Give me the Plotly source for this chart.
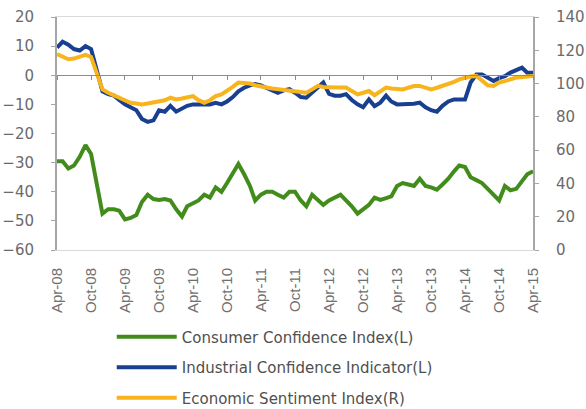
import pandas as pd
import plotly.graph_objects as go

# Monthly observations, Apr-2008 .. Apr-2015
months = pd.date_range("2008-04-01", "2015-04-01", freq="MS")

consumer_confidence = [
    -29.5, -29.5, -32, -31, -28, -24, -27, -38, -47.5, -46, -46, -46.5,
    -49.5, -49, -48, -43.5, -41, -42.5, -42.8, -42.5, -43, -46, -48.5, -45,
    -44, -43, -41, -42, -38.5, -40, -37, -34, -30.5, -34, -38, -43,
    -41, -40, -40, -41, -42, -40, -40, -43, -45, -41, -43, -44.5,
    -43, -42, -41, -43, -45, -47.5, -46, -44.5, -42, -42.8, -42.2, -41.6,
    -38, -37, -37.5, -38, -35.5, -38, -38.5, -39.3, -37.5, -35.5, -33, -31,
    -31.5, -35, -36, -37, -39, -41, -43, -38, -39.5, -39, -36.5, -34, -33,
]

industrial_confidence = [
    9.5, 11.5, 10.5, 9, 8.5, 10, 9, 1, -5.5, -6.5, -7, -8.5,
    -10, -11, -12, -15, -16, -15.5, -12, -12.5, -10.5, -12.5, -11.5, -10.5,
    -10, -10, -10, -10, -9.5, -10, -9, -7.5, -5.5, -4.3, -3.5, -3,
    -3.5, -4.3, -5, -6, -5.2, -4.8, -6, -7.5, -7.7, -6, -4, -2.5,
    -6.4, -7, -7, -6.5, -8.5, -10, -11, -8.3, -10.6, -9.4, -7, -9,
    -10, -10, -10, -9.8, -9.4, -11, -12, -12.5, -10.5, -9, -8.3, -8.3,
    -8.3, -2.5, 0.3, 0.3, -1, -2, -1, -0.3, 0.9, 1.8, 2.6, 0.9, 0.9,
]

economic_sentiment = [
    117.7, 116, 114.6, 115, 116, 117.2, 116, 106, 96.5, 94.5, 93, 91.5,
    90, 88.5, 88, 87.5, 88, 88.5, 89, 90, 91.5, 90.5, 91, 92,
    92.5, 90, 88.5, 90, 92.5, 93.5, 95.5, 98, 100.6, 100.5, 100, 99,
    98, 97.6, 97, 96.5, 96, 95.5, 95, 94.5, 94.5, 96.5, 98.6, 98,
    97.6, 97.6, 97.6, 97.6, 95.5, 93.5, 94.5, 95.5, 93, 95, 97.6, 97,
    96.5, 96.5, 97.5, 98.5, 98.6, 97.5, 96.5, 97.5, 98.5, 99.6, 101, 102.5,
    103.6, 104.2, 104.6, 102, 99, 98.6, 100.6, 101.5, 102.5, 103.6, 104, 104, 104.5,
]

series_names = [
    "Consumer Confidence Index(L)",
    "Industrial Confidence Indicator(L)",
    "Economic Sentiment Index(R)",
]
series_colors = ["#428c1c", "#193f91", "#f7b41c"]

tick_dates = pd.date_range("2008-04-01", "2015-04-01", freq="6MS")
tick_labels = [d.strftime("%b-%y") for d in tick_dates]

left_ticks = list(range(-60, 21, 10))
right_ticks = list(range(0, 141, 20))

fig = go.Figure()
fig.add_trace(go.Scatter(
    x=months, y=consumer_confidence, name=series_names[0], mode="lines",
    line=dict(color=series_colors[0], width=4), legendgroup="a",
))
fig.add_trace(go.Scatter(
    x=months, y=industrial_confidence, name=series_names[1], mode="lines",
    line=dict(color=series_colors[1], width=4), legendgroup="b",
))
fig.add_trace(go.Scatter(
    x=months, y=economic_sentiment, name=series_names[2], mode="lines",
    line=dict(color=series_colors[2], width=4), legendgroup="c",
    xaxis="x2", yaxis="y2",
))

axis_font = dict(family="DejaVu Sans", size=15, color="#6a6a6a")

fig.update_layout(
    width=586, height=409,
    margin=dict(l=57, r=53, t=17, b=159, autoexpand=False),
    paper_bgcolor="white", plot_bgcolor="white",
    showlegend=True,
    legend=dict(
        x=0.115, y=-0.303, xanchor="left", yanchor="top",
        font=dict(family="DejaVu Sans", size=15, color="#505050"),
        tracegroupgap=8, itemwidth=60, bgcolor="rgba(0,0,0,0)",
    ),
    xaxis=dict(
        type="date", range=[months[0], months[-1]], automargin=False,
        tickvals=tick_dates, ticktext=tick_labels, tickangle=-90,
        tickfont=dict(family="Liberation Sans", size=15, color="#707070"),
        ticklabelstandoff=11,
        showgrid=False, zeroline=False,
        showline=True, linecolor="#d9d9d9", linewidth=1, mirror=True,
        ticks="",
    ),
    xaxis2=dict(
        type="date", range=[months[0], months[-1]], matches="x",
        overlaying="x", anchor="free", position=0.75, side="bottom",
        tickvals=tick_dates, showticklabels=False,
        ticks="outside", ticklen=4, tickcolor="#8a8a9a",
        showline=True, linecolor="#8a8a9a", linewidth=1,
        showgrid=False, zeroline=False,
    ),
    yaxis=dict(
        range=[-60, 20], tickvals=left_ticks, tickfont=axis_font,
        automargin=False, ticklabelstandoff=14,
        showgrid=False, zeroline=False,
        showline=True, linecolor="#a6a6a6", linewidth=2,
        ticks="outside", ticklen=4, tickcolor="#a6a6a6",
    ),
    yaxis2=dict(
        range=[0, 140], tickvals=right_ticks, tickfont=axis_font,
        automargin=False, ticklabelstandoff=14,
        overlaying="y", side="right", anchor="x2",
        showgrid=False, zeroline=False,
        showline=True, linecolor="#a6a6a6", linewidth=2,
        ticks="outside", ticklen=4, tickcolor="#a6a6a6",
    ),
)

fig.write_html("out.html")
